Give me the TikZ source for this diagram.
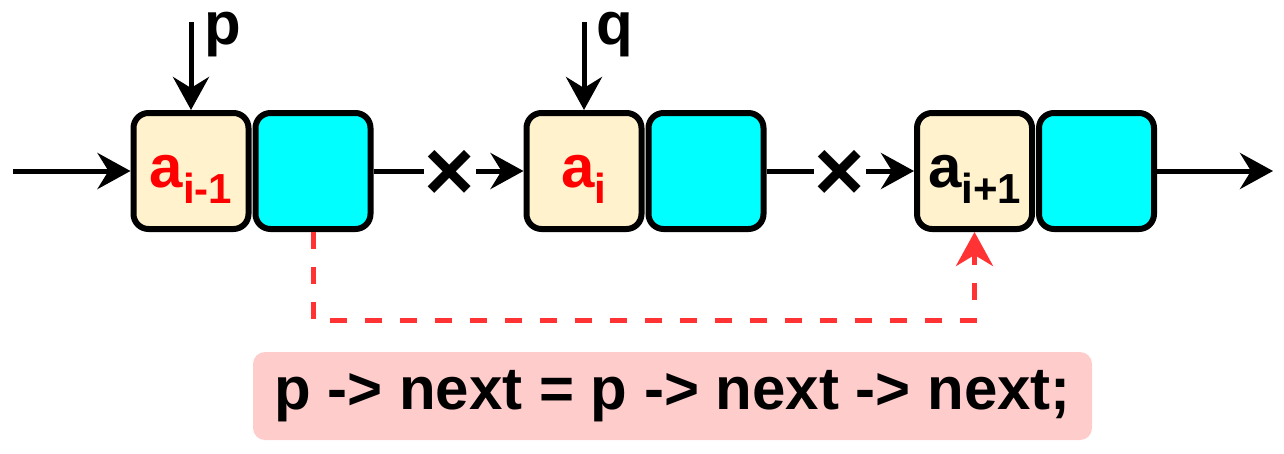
\documentclass[tikz,border=0pt]{standalone}
\usepackage{fontspec}
\setmainfont{Liberation Sans}
\usetikzlibrary{positioning, calc, arrows.meta}

\definecolor{datafill}{HTML}{FFF2CC}
\definecolor{linkfill}{HTML}{00FFFF}
\definecolor{fixred}{HTML}{FF3333}
\definecolor{codefill}{HTML}{FFCCCC}

\newcommand{\elemsub}[1]{\raisebox{-16pt}{\fontsize{42}{42}\selectfont #1}}

\tikzset{
  databox/.style={draw, fill=datafill, line width=6pt, rounded corners=15pt,
    minimum width=115pt, minimum height=116pt, inner sep=0pt,
    text height=32pt, text depth=0pt, font=\fontsize{60}{60}\selectfont\bfseries},
  linkbox/.style={databox, fill=linkfill},
  chain/.style={line width=5pt, -{Stealth[length=33pt,width=36pt,inset=11pt]}},
  cut/.style={inner sep=0pt, minimum width=52pt, text height=58pt, text depth=0pt,
    font=\fontsize{86}{86}\selectfont\bfseries},
  ptrlabel/.style={inner sep=0pt, anchor=base west, text height=33pt, text depth=13pt,
    font=\fontsize{60}{60}\selectfont\bfseries},
  fixlink/.style={fixred, line width=5pt, dash pattern=on 17pt off 18pt,
    -{Stealth[length=34pt,width=37pt,inset=11pt]}},
  codebox/.style={fill=codefill, rounded corners=12pt, minimum width=839pt,
    minimum height=88pt, font=\fontsize{60}{60}\selectfont\bfseries}
}

\begin{document}
\begin{tikzpicture}[x=1pt, y=-1pt]
  \useasboundingbox (0,0) rectangle (1284,453);

  \node[databox, text=red] (d1) at (191,171) {a\elemsub{i-1}};
  \node[linkbox, right=1pt of d1] (c1) {};
  \node[databox, text=red] (d2) at (584,171) {a\elemsub{i}};
  \node[linkbox, right=1pt of d2] (c2) {};
  \node[databox] (d3) at (974.5,171) {a\elemsub{i+1}};
  \node[linkbox, right=1pt of d3] (c3) {};

  \coordinate (head) at (13,171);
  \coordinate (tail) at (1273,171);
  \draw[chain] (head) -- (d1.west);

  \node[cut] (x1) at (450,171) {×};
  \draw[chain, -] (c1.east) -- (x1);
  \draw[chain] (x1) -- (d2.west);

  \node[cut] (x2) at (840,171) {×};
  \draw[chain, -] (c2.east) -- (x2);
  \draw[chain] (x2) -- (d3.west);

  \draw[chain] (c3.east) -- (tail);

  \coordinate (pin) at ($(d1.north)+(0,-88)$);
  \coordinate (qin) at ($(d2.north)+(0,-88)$);
  \draw[chain] (pin) -- (d1.north);
  \draw[chain] (qin) -- (d2.north);
  \node[ptrlabel] (plab) at (204,44) {p};
  \node[ptrlabel] (qlab) at (596,44) {q};

  \coordinate (bend) at (0,320);
  \draw[fixlink] (c1.south) -- (c1.south |- bend) -| (d3.south);

  \node[codebox] (code) at (672.5,396) {p -> next = p -> next -> next;};
\end{tikzpicture}
\end{document}
